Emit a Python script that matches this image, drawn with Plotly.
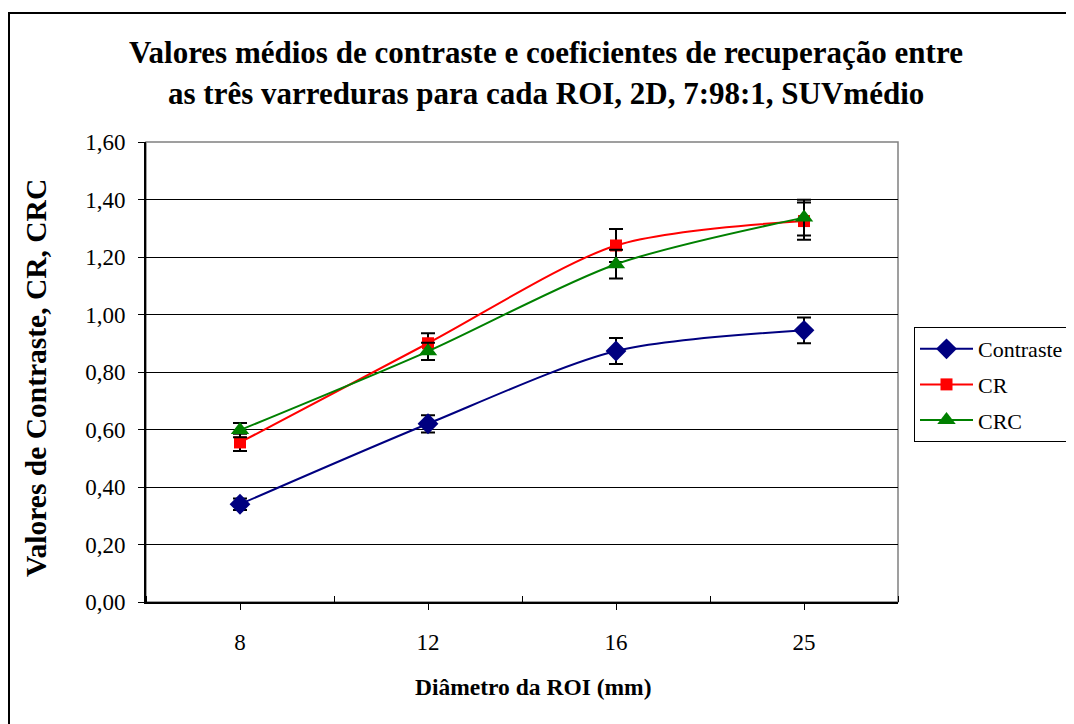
import plotly.graph_objects as go

categories = ["8", "12", "16", "25"]
contraste = [0.34, 0.62, 0.873, 0.945]
contraste_err = [0.02, 0.03, 0.045, 0.045]
cr = [0.555, 0.90, 1.24, 1.325]
cr_err = [0.03, 0.035, 0.057, 0.065]
crc = [0.598, 0.872, 1.175, 1.337]
crc_err = [0.025, 0.03, 0.05, 0.062]
y_ticks = [0.0, 0.2, 0.4, 0.6, 0.8, 1.0, 1.2, 1.4, 1.6]

title_lines = ["Valores médios de contraste e coeficientes de recuperação entre",
               "as três varreduras para cada ROI, 2D, 7:98:1, SUVmédio"]
x_title = "Diâmetro da ROI (mm)"
y_title = "Valores de Contraste, CR, CRC"

xpos = list(range(len(categories)))
FONT = "Liberation Serif"

# figure geometry (page has an 8px body margin)
W, H = 1066, 716
L, T, PW, PH = 138, 134, 752, 460


def px(xf):
    return (xf - L) / PW


def py(yf):
    return (T + PH - yf) / PH


fig = go.Figure()

series = [
    ("Contraste", contraste, contraste_err, "#000080", "diamond", 16),
    ("CR", cr, cr_err, "#FF0000", "square", 12),
    ("CRC", crc, crc_err, "#008000", "triangle-up", 16),
]
for name, vals, errs, color, sym, size in series:
    fig.add_trace(go.Scatter(
        x=xpos, y=vals, name=name, legendgroup=name, mode="lines+markers",
        line=dict(color=color, width=2, shape="spline", smoothing=0.8),
        marker=dict(symbol=sym, size=size, color=color),
        error_y=dict(type="data", array=errs, visible=True, color="black",
                     thickness=2, width=7),
    ))

fig.update_layout(
    width=W, height=H,
    paper_bgcolor="white", plot_bgcolor="white",
    margin=dict(l=L, r=W - L - PW, t=T, b=H - T - PH, autoexpand=False),
    separators=",.",
    font=dict(family=FONT, color="black", size=21),
    legend=dict(
        x=px(906), y=py(319), xanchor="left", yanchor="top",
        bordercolor="black", borderwidth=1, bgcolor="white",
        font=dict(family=FONT, size=22, color="black"),
        tracegroupgap=4, traceorder="grouped", itemwidth=53,
    ),
    showlegend=True,
)

fig.add_annotation(x=px(538), y=py(45), xref="paper", yref="paper", showarrow=False,
                   xanchor="center", yanchor="middle", text="<b>" + title_lines[0] + "</b>",
                   font=dict(family=FONT, size=31, color="black"))
fig.add_annotation(x=px(538), y=py(85), xref="paper", yref="paper", showarrow=False,
                   xanchor="center", yanchor="middle", text="<b>" + title_lines[1] + "</b>",
                   font=dict(family=FONT, size=31, color="black"))
fig.add_annotation(x=px(28), y=py(370), xref="paper", yref="paper", showarrow=False,
                   xanchor="center", yanchor="middle", textangle=-90,
                   text="<b>" + y_title + "</b>",
                   font=dict(family=FONT, size=29.5, color="black"))
fig.add_annotation(x=px(525), y=py(679), xref="paper", yref="paper", showarrow=False,
                   xanchor="center", yanchor="middle", text="<b>" + x_title + "</b>",
                   font=dict(family=FONT, size=23.5, color="black"))

fig.update_xaxes(
    range=[-0.5, 3.5], tickvals=xpos, ticktext=categories,
    ticks="outside", ticklen=6, tickcolor="black", tickwidth=1,
    showline=True, linecolor="black", linewidth=2,
    showgrid=False, zeroline=False,
    ticklabelstandoff=12,
    tickfont=dict(family=FONT, size=23),
    minor=dict(tickvals=[-0.5, 0.5, 1.5, 2.5, 3.5], ticks="inside",
               ticklen=6, tickcolor="black", tickwidth=1, showgrid=False),
)
fig.update_yaxes(
    range=[0, 1.6], tickvals=y_ticks, tickformat=".2f",
    ticks="outside", ticklen=6, tickcolor="black", tickwidth=1,
    showline=True, linecolor="black", linewidth=2,
    showgrid=True, gridcolor="black", gridwidth=1, zeroline=False,
    ticklabelstandoff=8,
    tickfont=dict(family=FONT, size=23),
)

# plot-area border (gray, top & right)
fig.add_shape(type="rect", xref="paper", yref="paper", x0=0, x1=1, y0=0, y1=1,
              line=dict(color="#808080", width=1.5), layer="below")
# chart-area outer border (only top & left visible)
fig.add_shape(type="rect", xref="paper", yref="paper",
              x0=px(1), x1=px(1090), y0=py(740), y1=py(5),
              line=dict(color="black", width=2))

fig.write_html("out.html")
